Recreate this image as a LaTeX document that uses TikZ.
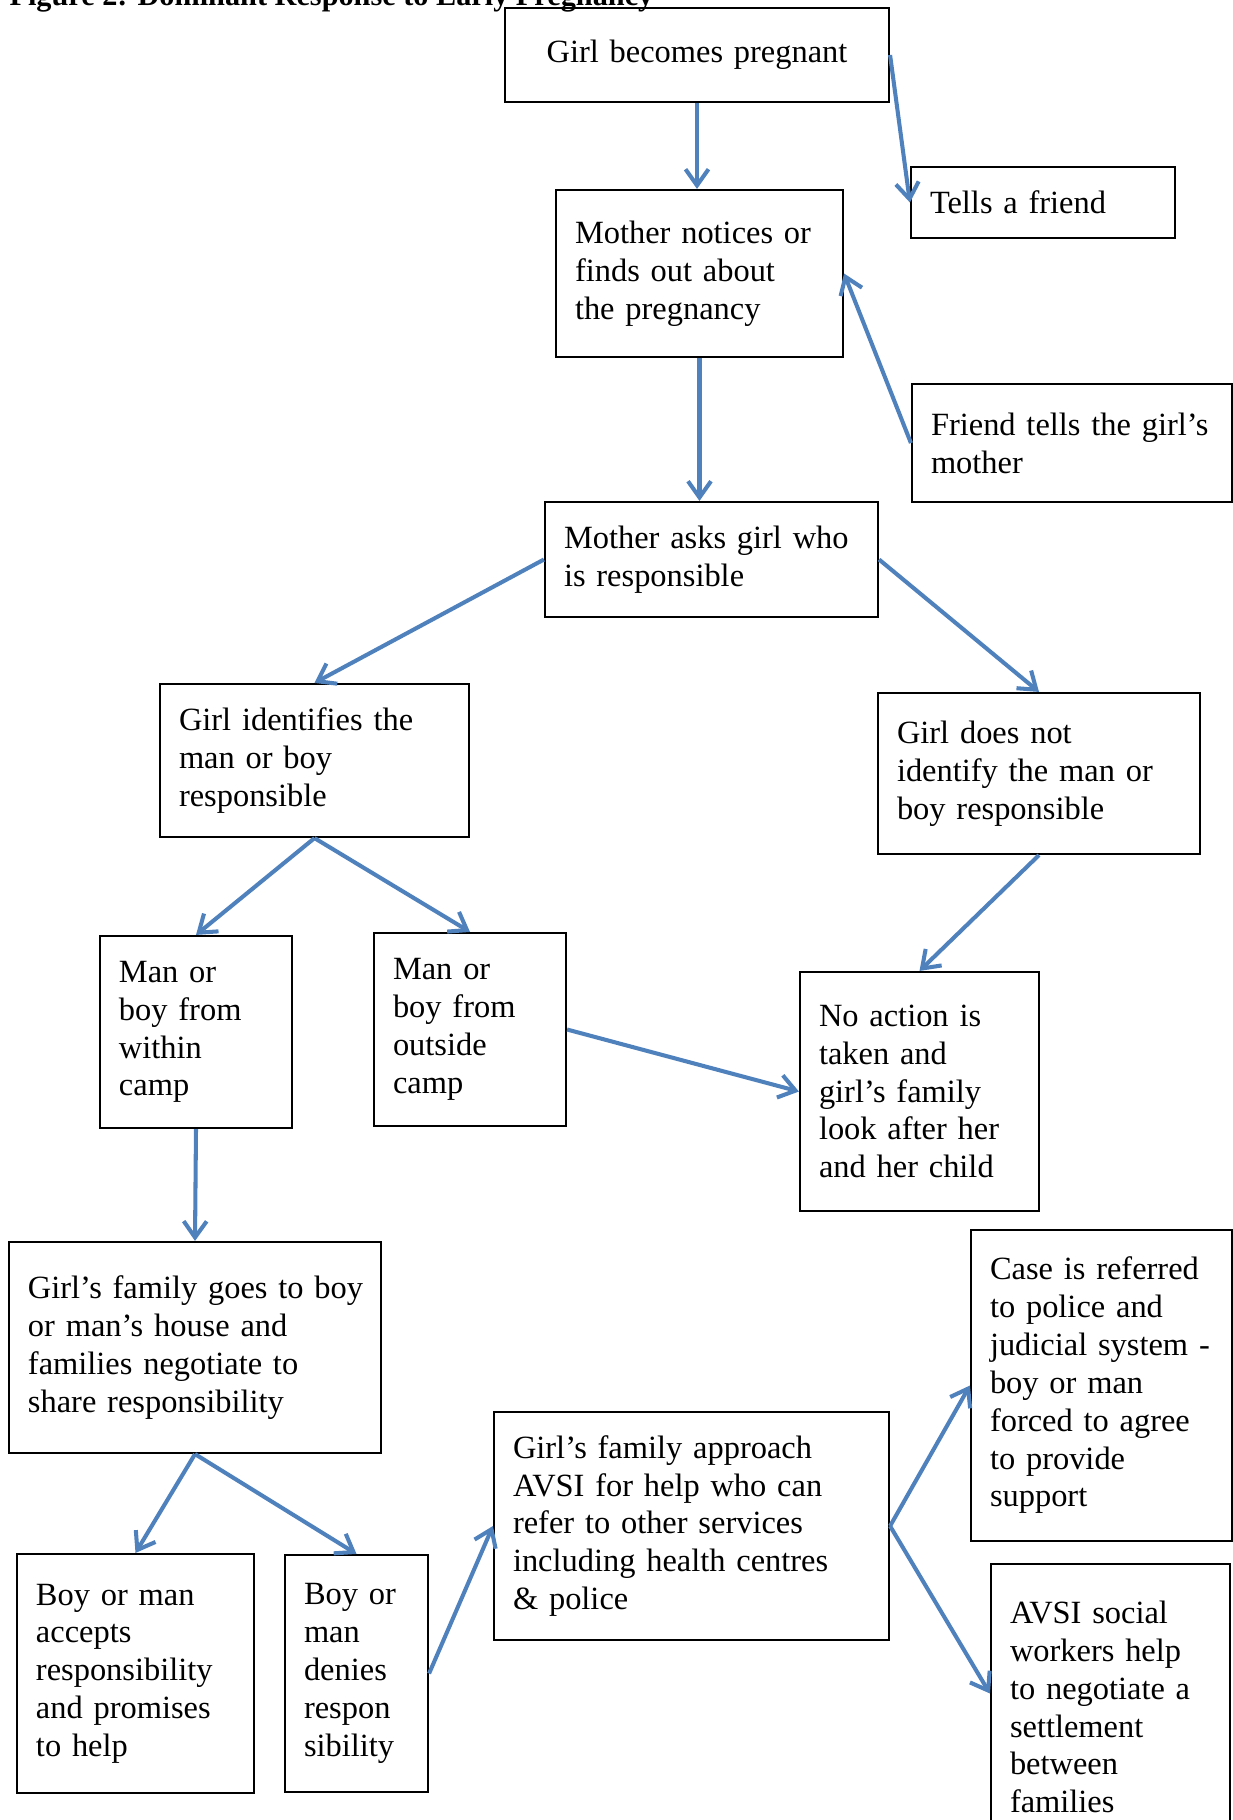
\documentclass[tikz,border=0pt]{standalone}
\usepackage{fontspec}
\setmainfont{Liberation Serif}
\usepackage{xcolor}
\usetikzlibrary{arrows.meta}
\definecolor{flowblue}{RGB}{79,129,189}

\begin{document}
\begin{tikzpicture}[x=0.37pt, y=-0.37pt,
	stepbox/.style 2 args={draw, line width=0.8pt, align=left, font=\fontsize{12}{14}\selectfont, inner xsep=19*0.37pt, inner ysep=0pt, text width=(#1-38)*0.37pt, minimum width=#1*0.37pt, minimum height=#2*0.37pt},
	flow/.style={line width=1.5pt, flowblue, -{Straight Barb[length=6pt, width=8.5pt]}}]
	\useasboundingbox (0,0) rectangle (1233,1820);
	\node[anchor=base west, inner sep=0pt, font=\bfseries\fontsize{11.2}{13}\selectfont] (title) at (9,5) {Figure 2: Dominant Response to Early Pregnancy};
	\node[stepbox={384}{94}, align=center] (preg) at (697,55) {Girl becomes pregnant};
	\node[stepbox={264}{71}] (tellfriend) at (1043,202.5) {Tells a friend};
	\node[stepbox={287}{167}] (notices) at (699.5,273.5) {Mother notices or\\ finds out about\\ the pregnancy};
	\node[stepbox={320}{118}] (tellsmum) at (1072,443) {Friend tells the girl’s\\ mother};
	\node[stepbox={333}{115}] (asks) at (711.5,559.5) {Mother asks girl who\\ is responsible};
	\node[stepbox={309}{153}] (names) at (314.5,760.5) {Girl identifies the\\ man or boy\\ responsible};
	\node[stepbox={322}{161}] (nonames) at (1039,773.5) {Girl does not\\ identify the man or\\ boy responsible};
	\node[stepbox={192}{192}] (within) at (196,1032) {Man or\\ boy from\\ within\\ camp};
	\node[stepbox={192}{193}] (outside) at (470,1029.5) {Man or\\ boy from\\ outside\\ camp};
	\node[stepbox={239}{239}] (noaction) at (919.5,1091.5) {No action is\\ taken and\\ girl’s family\\ look after her\\ and her child};
	\node[stepbox={372}{211}] (negotiate) at (195,1347.5) {\mbox{Girl’s family goes to boy}\\ or man’s house and\\ families negotiate to\\ share responsibility};
	\node[stepbox={261}{311}] (police) at (1101.5,1385.5) {Case is referred\\ to police and\\ \mbox{judicial system -}\\ boy or man\\ forced to agree\\ to provide\\ support};
	\node[stepbox={395}{228}] (avsi) at (691.5,1526) {Girl’s family approach\\ AVSI for help who can\\ refer to other services\\ including health centres\\ \& police};
	\node[stepbox={237}{239}] (accepts) at (135.5,1673.5) {Boy or man\\ accepts\\ responsibility\\ and promises\\ to help};
	\node[stepbox={143}{237}] (denies) at (356.5,1673.5) {Boy or\\ man\\ denies\\ respon\\ sibility};
	\node[stepbox={239}{286}] (social) at (1110.5,1707) {AVSI social\\ workers help\\ to negotiate a\\ settlement\\ between\\ families};
	\draw[flow] (preg.south) -- (preg.south |- notices.north);
	\draw[flow] (preg.east) -- (tellfriend.west);
	\draw[flow] (notices.south) -- (notices.south |- asks.north);
	\draw[flow] (tellsmum.west) -- (notices.east);
	\draw[flow] (asks.west) -- (names.north);
	\draw[flow] (asks.east) -- (nonames.north);
	\draw[flow] (names.south) -- (within.north);
	\draw[flow] (names.south) -- (outside.north);
	\draw[flow] (nonames.south) -- (noaction.north);
	\draw[flow] (outside.east) -- (noaction.west);
	\draw[flow] (within.south) -- (negotiate.north);
	\draw[flow] (negotiate.south) -- (accepts.north);
	\draw[flow] (negotiate.south) -- (denies.north);
	\draw[flow] (denies.east) -- (avsi.west);
	\draw[flow] (avsi.east) -- (police.west);
	\draw[flow] (avsi.east) -- ([yshift=5pt]social.west);
\end{tikzpicture}
\end{document}
